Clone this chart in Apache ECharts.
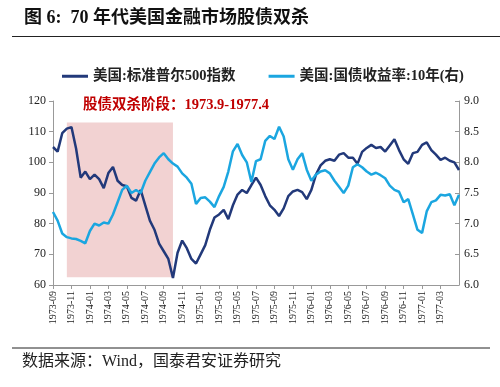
<!DOCTYPE html>
<html>
<head>
<meta charset="utf-8">
<script src="https://cdn.jsdelivr.net/npm/echarts@6/dist/echarts.min.js"></script>
<style>html,body{margin:0;padding:0;background:#fff;}#c{width:500px;height:387px;}</style>
</head>
<body>
<div id="c"></div>
<script>
const dates = [
'1973-09-01','1973-09-16','1973-10-01','1973-10-16','1973-11-01','1973-11-16','1973-12-01','1973-12-16',
'1974-01-01','1974-01-16','1974-02-01','1974-02-16','1974-03-01','1974-03-16','1974-04-01','1974-04-16','1974-05-01','1974-05-16','1974-06-01','1974-06-16','1974-07-01','1974-07-16','1974-08-01','1974-08-16','1974-09-01','1974-09-16','1974-10-01','1974-10-16','1974-11-01','1974-11-16','1974-12-01','1974-12-16',
'1975-01-01','1975-01-16','1975-02-01','1975-02-16','1975-03-01','1975-03-16','1975-04-01','1975-04-16','1975-05-01','1975-05-16','1975-06-01','1975-06-16','1975-07-01','1975-07-16','1975-08-01','1975-08-16','1975-09-01','1975-09-16','1975-10-01','1975-10-16','1975-11-01','1975-11-16','1975-12-01','1975-12-16',
'1976-01-01','1976-01-16','1976-02-01','1976-02-16','1976-03-01','1976-03-16','1976-04-01','1976-04-16','1976-05-01','1976-05-16','1976-06-01','1976-06-16','1976-07-01','1976-07-16','1976-08-01','1976-08-16','1976-09-01','1976-09-16','1976-10-01','1976-10-16','1976-11-01','1976-11-16','1976-12-01','1976-12-16',
'1977-01-01','1977-01-16','1977-02-01','1977-02-16','1977-03-01','1977-03-16','1977-04-01','1977-04-16','1977-05-01'
];
const spx = [
105,103.5,109.5,111,111.5,104.5,95,97,94.5,96,
94.5,91.6,96.5,98.5,94,92.6,92.2,88.4,87.5,91,
86,81,78,73.5,71,68.5,62.3,70.5,74.5,72,
68.5,67,70,73,78,82,83,84.5,81.5,86,
89.5,91,90,92.6,95,92.6,89,86,84.5,82.5,
85,89,90.5,91,90.3,88,91,96,99,100.5,
101,100.5,102.5,103,101.5,101.5,99.5,103.4,104.7,105.7,
104.7,105,103.5,105.5,107.5,104,101,99.5,103,103.4,
105.7,106.5,104,102.5,100.8,101.5,100.5,100,97.5
];
const yield10 = [
7.19,7.05,6.84,6.78,6.76,6.75,6.72,6.68,6.88,7.0,
6.97,7.02,7.0,7.15,7.35,7.55,7.62,7.5,7.55,7.5,
7.7,7.84,7.98,8.08,8.15,8.05,7.98,7.93,7.82,7.75,
7.65,7.32,7.42,7.43,7.36,7.27,7.45,7.6,7.85,8.18,
8.3,8.12,8.0,7.68,8.02,8.05,8.35,8.43,8.38,8.58,
8.42,8.05,7.88,8.05,8.15,7.88,7.7,7.8,7.85,7.87,
7.82,7.7,7.6,7.5,7.62,7.92,7.97,7.92,7.85,7.8,
7.83,7.79,7.74,7.62,7.55,7.52,7.35,7.4,7.15,6.9,
6.85,7.2,7.35,7.38,7.47,7.46,7.48,7.3,7.47
];
const tickLabels = ['1973-09','1973-11','1974-01','1974-03','1974-05','1974-07','1974-09','1974-11','1975-01','1975-03','1975-05','1975-07','1975-09','1975-11','1976-01','1976-03','1976-05','1976-07','1976-09','1976-11','1977-01','1977-03'];
const seriesNames = ['美国:标准普尔500指数','美国:国债收益率:10年(右)'];
const shadeRange = ['1973-10-16','1974-10-01'];
const shadeY = [113, 62.5];

const FONT = "'Liberation Serif','Times New Roman','Noto Sans CJK SC',serif";
const isTick = (idx) => { const d = dates[idx]; return d.endsWith('-01') && tickLabels.indexOf(d.slice(0,7)) >= 0; };

const chart = echarts.init(document.getElementById('c'), null, {renderer:'canvas'});
chart.setOption({
  animation: false,
  backgroundColor: '#fff',
  textStyle: {fontFamily: FONT},
  grid: {left: 53, right: 41, top: 101, bottom: 102, containLabel: false},
  legend: {
    left: 57, top: 64, itemWidth: 26, itemHeight: 3, itemGap: 33, icon: 'rect',
    textStyle: {fontSize: 14.5, fontWeight: 'bold', color: '#222', fontFamily: FONT},
    data: seriesNames
  },
  xAxis: {
    type: 'category', data: dates, boundaryGap: false,
    axisLine: {lineStyle: {color: '#999'}},
    axisTick: {show: true, interval: isTick, length: 4, lineStyle: {color: '#999'}},
    axisLabel: {interval: isTick, rotate: 90, fontSize: 10, color: '#222', margin: 6,
      formatter: v => v.slice(0,7)},
    splitLine: {show: false}
  },
  yAxis: [
    {type: 'value', min: 60, max: 120, interval: 10,
     axisLine: {show: true, lineStyle: {color: '#999'}},
     axisTick: {show: true, length: 4, lineStyle: {color: '#999'}},
     axisLabel: {fontSize: 12, color: '#222', margin: 7},
     splitLine: {show: false}},
    {type: 'value', min: 6, max: 9, interval: 0.5, position: 'right',
     axisLine: {show: true, lineStyle: {color: '#999'}},
     axisTick: {show: true, inside: true, length: 4, lineStyle: {color: '#999'}},
     axisLabel: {fontSize: 12, color: '#222', margin: 5, formatter: v => v.toFixed(1)},
     splitLine: {show: false}}
  ],
  series: [
    {name: seriesNames[0], type: 'line', data: spx, yAxisIndex: 0, symbol: 'none',
     lineStyle: {color: '#22397a', width: 2.5}, itemStyle: {color: '#22397a'}, z: 3,
     markArea: {silent: true, itemStyle: {color: '#f2d2d2'},
       data: [[{xAxis: shadeRange[0], yAxis: shadeY[0]}, {xAxis: shadeRange[1], yAxis: shadeY[1]}]]}},
    {name: seriesNames[1], type: 'line', data: yield10, yAxisIndex: 1, symbol: 'none',
     lineStyle: {color: '#1ba6e0', width: 2.5}, itemStyle: {color: '#1ba6e0'}, z: 4}
  ],
  graphic: [
    {type: 'text', left: 24, top: 9, style: {text: '图 6:  70 年代美国金融市场股债双杀', font: "bold 18px " + FONT, fill: '#111'}},
    {type: 'line', shape: {x1: 12, y1: 36.5, x2: 500, y2: 36.5}, style: {stroke: '#222', lineWidth: 1}},
    {type: 'text', left: 83, top: 98, z: 10, style: {text: '股债双杀阶段：1973.9-1977.4', font: "bold 14.5px " + FONT, fill: '#c00000'}},
    {type: 'line', shape: {x1: 12, y1: 348, x2: 490, y2: 348}, style: {stroke: '#222', lineWidth: 1}},
    {type: 'text', left: 22, top: 354, style: {text: '数据来源：Wind，国泰君安证券研究', font: "16px " + FONT, fill: '#222'}}
  ]
});
</script>
</body>
</html>
